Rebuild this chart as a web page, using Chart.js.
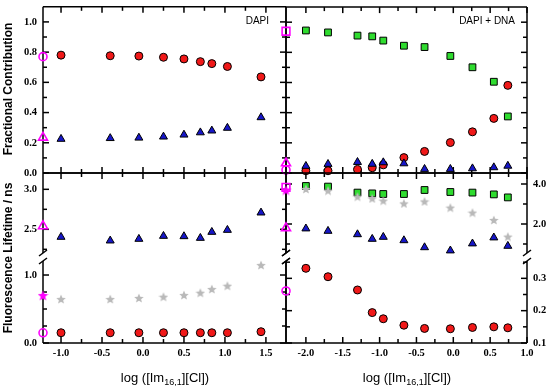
<!DOCTYPE html>
<html>
<head>
<meta charset="utf-8">
<script src="https://cdn.jsdelivr.net/npm/chart.js@4.4.1/dist/chart.umd.min.js"></script>
<style>
  html, body { margin: 0; padding: 0; background: #fff; }
  #wrap { position: relative; width: 550px; height: 386px; overflow: hidden; background: #fff; }
  #wrap canvas { position: absolute; left: 0; top: 0; }
  .lbl { position: absolute; white-space: nowrap; font-family: "Liberation Sans", Arial, sans-serif; color: #000; line-height: 1; }
  .ytitle { font-weight: bold; font-size: 12px; transform: translate(-50%, -50%) rotate(-90deg); }
  .xtitle { font-size: 13px; transform: translate(-50%, -50%); }
  .tag { font-size: 10px; transform: translate(-100%, -50%); }
  .xtitle sub { font-size: 9px; vertical-align: -3px; line-height: 0; }
</style>
</head>
<body>
<div id="wrap">
  <canvas id="c-tl" width="550" height="386"></canvas>
  <canvas id="c-tr" width="550" height="386"></canvas>
  <canvas id="c-blu" width="550" height="386"></canvas>
  <canvas id="c-bll" width="550" height="386"></canvas>
  <canvas id="c-bru" width="550" height="386"></canvas>
  <canvas id="c-brl" width="550" height="386"></canvas>
  <div class="lbl ytitle" style="left:8px;top:89px">Fractional Contribution</div>
  <div class="lbl ytitle" style="left:8px;top:258px">Fluorescence Lifetime / ns</div>
  <div class="lbl xtitle" style="left:165px;top:377px">log ([Im<sub>16,1</sub>][Cl])</div>
  <div class="lbl xtitle" style="left:407px;top:377px">log ([Im<sub>16,1</sub>][Cl])</div>
  <div class="lbl tag" style="left:269px;top:21px">DAPI</div>
  <div class="lbl tag" style="left:515px;top:21px">DAPI + DNA</div>
</div>
<script>
// ── Data ──────────────────────────────────────────────────────────────
const xLeft  = [-1.0, -0.4, -0.05, 0.25, 0.5, 0.7, 0.84, 1.03, 1.44];
const xRight = [-2.0, -1.7, -1.3, -1.1, -0.95, -0.67, -0.39, -0.04, 0.26, 0.55, 0.74];
const xRefLeft  = -1.22;   // magenta reference points sit on the left axis
const xRefRight = -2.27;

// fractional contributions — DAPI
const fracRedLeft  = [0.780, 0.776, 0.774, 0.766, 0.755, 0.737, 0.724, 0.705, 0.636];
const fracBlueLeft = [0.225, 0.230, 0.233, 0.240, 0.253, 0.268, 0.280, 0.298, 0.368];
const fracRefLeft  = [0.77, 0.235];            // circle, triangle

// fractional contributions — DAPI + DNA
const fracGreenRight = [0.945, 0.932, 0.911, 0.906, 0.878, 0.844, 0.835, 0.776, 0.701, 0.605, 0.375];
const fracRedRight   = [0.015, 0.015, 0.024, 0.035, 0.054, 0.102, 0.143, 0.202, 0.273, 0.362, 0.581];
const fracBlueRight  = [0.046, 0.059, 0.072, 0.060, 0.070, 0.063, 0.026, 0.026, 0.030, 0.037, 0.047];
const fracRefRight   = [0.94, 0.065, 0.02];    // square, triangle, circle

// lifetimes — DAPI
const tauBlueLeft = [2.404, 2.358, 2.379, 2.416, 2.412, 2.391, 2.466, 2.491, 2.708];
const tauGrayLeft = [0.647, 0.647, 0.662, 0.681, 0.706, 0.740, 0.794, 0.843, 1.147];
const tauRedLeft  = [0.151, 0.151, 0.151, 0.151, 0.151, 0.151, 0.151, 0.151, 0.166];
const tauRefLeft  = [2.54, 0.70, 0.15];        // triangle, star, circle

// lifetimes — DAPI + DNA
const tauGreenRight = [3.90, 3.87, 3.57, 3.53, 3.50, 3.50, 3.70, 3.60, 3.57, 3.48, 3.33];
const tauGrayRight  = [3.75, 3.67, 3.37, 3.28, 3.17, 3.03, 3.13, 2.82, 2.57, 2.20, 1.37];
const tauBlueRight  = [1.77, 1.65, 1.48, 1.25, 1.35, 1.18, 0.83, 0.67, 1.02, 1.32, 0.90];
const tauRedRight   = [0.331, 0.305, 0.264, 0.194, 0.175, 0.155, 0.145, 0.144, 0.148, 0.150, 0.147];
const tauRefRight   = [3.83, 3.70, 1.80, 0.261]; // square, star, triangle, circle

// ticks
const xTicksLeft   = [-1.0, -0.5, 0.0, 0.5, 1.0, 1.5];
const xMinorLeft   = [-0.75, -0.25, 0.25, 0.75, 1.25];
const xTicksRight  = [-2.0, -1.5, -1.0, -0.5, 0.0, 0.5, 1.0];
const xMinorRight  = [-1.75, -1.25, -0.75, -0.25, 0.25, 0.75];
const fracTicks    = [0.0, 0.2, 0.4, 0.6, 0.8, 1.0];
const fracMinor    = [0.1, 0.3, 0.5, 0.7, 0.9];
const tauTicksLeftHi  = [2.5, 3.0];
const tauMinorLeftHi  = [2.25, 2.75];
const tauTicksLeftLo  = [0.0, 1.0];
const tauMinorLeftLo  = [0.25, 0.5, 0.75];
const tauTicksRightHi = [2.0, 4.0];
const tauMinorRightHi = [1.0, 3.0];
const tauTicksRightLo = [0.1, 0.2, 0.3];
const tauMinorRightLo = [0.15, 0.25, 0.35];

// ── Panel geometry (pixels) ───────────────────────────────────────────
const COL_L = [43, 286], COL_R = [286, 527];
const ROW_TOP = [4, 173], ROW_HI = [173, 257], ROW_LO = [257, 343];

// ── Markers ───────────────────────────────────────────────────────────
function starImg(color, size) {
    const c = document.createElement('canvas');
    c.width = c.height = size;
    const g = c.getContext('2d');
    const r = size / 2, ri = r * 0.45;
    g.beginPath();
    for (let i = 0; i < 10; i++) {
        const a = -Math.PI / 2 + i * Math.PI / 5;
        const rr = i % 2 ? ri : r;
        g.lineTo(r + Math.cos(a) * rr, r + 0.5 + Math.sin(a) * rr);
    }
    g.closePath();
    g.fillStyle = color;
    g.fill();
    return c;
}

const MAG = '#ff00ff';
const RED   = { pointStyle: 'circle',   pointRadius: 4,   backgroundColor: '#f01818' };
const BLUE  = { pointStyle: 'triangle', pointRadius: 4.6, backgroundColor: '#1616c8' };
const GREEN = { pointStyle: 'rect',     pointRadius: 4.8, backgroundColor: '#2fdc2f' };
const GRAY  = { pointStyle: starImg('#b9b9b9', 10), borderWidth: 0 };
const M_CIRC = { pointStyle: 'circle',   pointRadius: 4,   borderColor: MAG, backgroundColor: 'rgba(0,0,0,0)', borderWidth: 1.6 };
const M_TRI  = { pointStyle: 'triangle', pointRadius: 5.2, borderColor: MAG, backgroundColor: 'rgba(0,0,0,0)', borderWidth: 1.6 };
const M_SQR  = { pointStyle: 'rect',     pointRadius: 5.5, borderColor: MAG, backgroundColor: 'rgba(0,0,0,0)', borderWidth: 1.6 };
const M_STAR = { pointStyle: starImg(MAG, 11), borderWidth: 0 };

const pts = (xs, ys) => ys.map((y, i) => ({ x: xs[i], y }));
const ds = (data, style) => Object.assign({ data, showLine: false, clip: false, borderWidth: 1, borderColor: '#000' }, style);

// ── Frame / ticks / tick labels ───────────────────────────────────────
const deco = {
    id: 'deco',
    beforeDatasetsDraw(chart, args, o) {
        const ctx = chart.ctx, a = chart.chartArea;
        const xs = chart.scales.x, ys = chart.scales.y;
        const line = (x1, y1, x2, y2) => { ctx.beginPath(); ctx.moveTo(x1, y1); ctx.lineTo(x2, y2); ctx.stroke(); };
        ctx.save();
        ctx.strokeStyle = '#000';
        ctx.lineWidth = 1.5;

        const yTop = a.top + (o.trimTop || 0), yBot = a.bottom - (o.trimBottom || 0);
        line(a.left, yTop, a.left, yBot);
        line(a.right, yTop, a.right, yBot);
        if (o.lineTop) line(a.left, a.top, a.right, a.top);
        if (o.lineBottom) line(a.left, a.bottom, a.right, a.bottom);

        [[o.xMajor, 6], [o.xMinor, 4]].forEach(([vals, len]) => (vals || []).forEach(v => {
            const px = xs.getPixelForValue(v);
            if (o.tickTop) line(px, a.top, px, a.top + len);
            if (o.tickBottom) line(px, a.bottom, px, a.bottom - len);
        }));
        [[o.yMajor, 6], [o.yMinor, 4]].forEach(([vals, len]) => (vals || []).forEach(v => {
            const py = ys.getPixelForValue(v);
            line(a.left, py, a.left + len, py);
            line(a.right, py, a.right - len, py);
        }));

        if (o.breakBottom) [a.left, a.right].forEach(x => {
            const yb = a.bottom;
            line(x - 4, yb - 1, x + 4, yb - 7);
            line(x - 4, yb + 7, x + 4, yb + 1);
        });

        ctx.fillStyle = '#000';
        ctx.font = 'bold 10.5px "Liberation Serif", "Times New Roman", serif';
        ctx.textBaseline = 'middle';
        if (o.xLabels) {
            ctx.textAlign = 'center';
            o.xMajor.forEach(v => ctx.fillText(v.toFixed(1), xs.getPixelForValue(v), a.bottom + 10));
        }
        if (o.yLabels) {
            const left = o.yLabels === 'left';
            ctx.textAlign = left ? 'right' : 'left';
            o.yMajor.forEach(v => ctx.fillText(v.toFixed(1), left ? a.left - 6 : a.right + 6, ys.getPixelForValue(v)));
        }
        ctx.restore();
    }
};

function makeChart(id, col, row, xr, yr, datasets, opts) {
    return new Chart(document.getElementById(id), {
        type: 'scatter',
        data: { datasets },
        plugins: [deco],
        options: {
            responsive: false,
            animation: false,
            devicePixelRatio: 1,
            events: [],
            layout: { padding: { left: col[0], right: 550 - col[1], top: row[0], bottom: 386 - row[1] } },
            scales: {
                x: { type: 'linear', display: false, min: xr[0], max: xr[1] },
                y: { type: 'linear', display: false, min: yr[0], max: yr[1] }
            },
            plugins: { legend: { display: false }, tooltip: { enabled: false }, deco: opts }
        }
    });
}

const XL = [xRefLeft, 1.745], XR = [xRefRight, 1.0];

// top-left: DAPI fractions
makeChart('c-tl', COL_L, ROW_TOP, XL, [0, 1.1], [
    ds(pts(xLeft, fracRedLeft), RED),
    ds(pts(xLeft, fracBlueLeft), BLUE),
    ds([{ x: xRefLeft, y: fracRefLeft[0] }], M_CIRC),
    ds([{ x: xRefLeft, y: fracRefLeft[1] }], M_TRI)
], { xMajor: xTicksLeft, xMinor: xMinorLeft, yMajor: fracTicks, yMinor: fracMinor,
     tickTop: true, tickBottom: true, lineTop: true, lineBottom: true, yLabels: 'left' });

// top-right: DAPI + DNA fractions
makeChart('c-tr', COL_R, ROW_TOP, XR, [0, 1.1], [
    ds(pts(xRight, fracGreenRight), GREEN),
    ds(pts(xRight, fracBlueRight), BLUE),
    ds(pts(xRight, fracRedRight), RED),
    ds([{ x: xRefRight, y: fracRefRight[0] }], M_SQR),
    ds([{ x: xRefRight, y: fracRefRight[1] }], M_TRI),
    ds([{ x: xRefRight, y: fracRefRight[2] }], M_CIRC)
], { xMajor: xTicksRight, xMinor: xMinorRight, yMajor: fracTicks, yMinor: fracMinor,
     tickTop: true, tickBottom: true, lineTop: true, lineBottom: true });

// bottom-left, upper segment
makeChart('c-blu', COL_L, ROW_HI, XL, [2.154, 3.204], [
    ds(pts(xLeft, tauBlueLeft), BLUE),
    ds([{ x: xRefLeft, y: tauRefLeft[0] }], M_TRI)
], { xMajor: xTicksLeft, xMinor: xMinorLeft, yMajor: tauTicksLeftHi, yMinor: tauMinorLeftHi,
     tickTop: true, lineTop: true, trimBottom: 4, breakBottom: true, yLabels: 'left' });

// bottom-left, lower segment
makeChart('c-bll', COL_L, ROW_LO, XL, [0, 1.265], [
    ds(pts(xLeft, tauGrayLeft), GRAY),
    ds(pts(xLeft, tauRedLeft), RED),
    ds([{ x: xRefLeft, y: tauRefLeft[1] }], M_STAR),
    ds([{ x: xRefLeft, y: tauRefLeft[2] }], M_CIRC)
], { xMajor: xTicksLeft, xMinor: xMinorLeft, yMajor: tauTicksLeftLo, yMinor: tauMinorLeftLo,
     tickBottom: true, lineBottom: true, trimTop: 4, xLabels: true, yLabels: 'left' });

// bottom-right, upper segment
makeChart('c-bru', COL_R, ROW_HI, XR, [0.35, 4.55], [
    ds(pts(xRight, tauGrayRight), GRAY),
    ds(pts(xRight, tauGreenRight), GREEN),
    ds(pts(xRight, tauBlueRight), BLUE),
    ds([{ x: xRefRight, y: tauRefRight[0] }], M_SQR),
    ds([{ x: xRefRight, y: tauRefRight[1] }], M_STAR),
    ds([{ x: xRefRight, y: tauRefRight[2] }], M_TRI)
], { xMajor: xTicksRight, xMinor: xMinorRight, yMajor: tauTicksRightHi, yMinor: tauMinorRightHi,
     tickTop: true, lineTop: true, trimBottom: 4, breakBottom: true, yLabels: 'right' });

// bottom-right, lower segment
makeChart('c-brl', COL_R, ROW_LO, XR, [0.1, 0.366], [
    ds(pts(xRight, tauRedRight), RED),
    ds([{ x: xRefRight, y: tauRefRight[3] }], M_CIRC)
], { xMajor: xTicksRight, xMinor: xMinorRight, yMajor: tauTicksRightLo, yMinor: tauMinorRightLo,
     tickBottom: true, lineBottom: true, trimTop: 4, xLabels: true, yLabels: 'right' });
</script>
</body>
</html>
